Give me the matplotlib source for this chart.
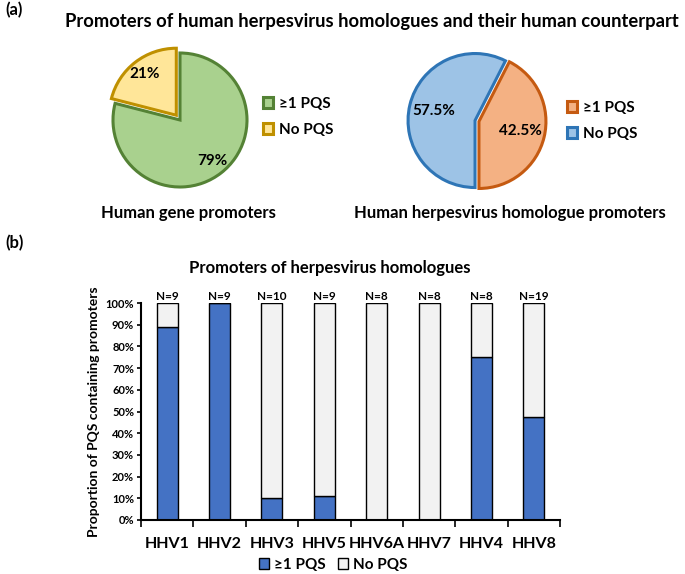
import matplotlib
matplotlib.use("Agg")
import matplotlib.pyplot as plt
from matplotlib.patches import Patch

plt.rcParams['font.family'] = ['Lato', 'DejaVu Sans']
plt.rcParams['font.weight'] = 'bold'

# panel (a) data
pie_labels = ['\u22651 PQS', 'No PQS']
human_gene = [79, 21]
herpes_homologue = [42.5, 57.5]

# panel (b) data
viruses = ['HHV1', 'HHV2', 'HHV3', 'HHV5', 'HHV6A', 'HHV7', 'HHV4', 'HHV8']
n_promoters = [9, 9, 10, 9, 8, 8, 8, 19]
with_pqs = [88.9, 100, 10.0, 11.1, 0, 0, 75.0, 47.4]
no_pqs = [100 - v for v in with_pqs]

W, H = 685, 574
fig = plt.figure(figsize=(W / 100, H / 100), dpi=100)


def px(x, y):
    return x / W, 1 - y / H


def pie_axes(cx, cy, r, half=1.4):
    s = r * half
    ax = fig.add_axes([(cx - s) / W, 1 - (cy + s) / H, 2 * s / W, 2 * s / H])
    ax.axis('off')
    return ax


# left pie
ax1 = pie_axes(180, 120, 67)
w1, _, t1 = ax1.pie(human_gene, explode=[0, 0.09], startangle=90, counterclock=False,
                    colors=['#A9D18E', '#FFE699'], autopct='%d%%', pctdistance=0.78,
                    wedgeprops=dict(linewidth=2.2), textprops=dict(fontsize=11, fontweight='bold'))
w1[0].set_edgecolor('#548235')
w1[1].set_edgecolor('#BF9000')
ax1.set_xlim(-1.4, 1.4); ax1.set_ylim(-1.4, 1.4)

# right pie
ax2 = pie_axes(477, 121, 67)
w2, _, t2 = ax2.pie(herpes_homologue, explode=[0.03, 0.03], startangle=63, counterclock=False,
                    colors=['#F4B183', '#9DC3E6'], autopct='%.1f%%', pctdistance=0.63,
                    wedgeprops=dict(linewidth=2.2), textprops=dict(fontsize=11, fontweight='bold'))
w2[0].set_edgecolor('#C55A11')
w2[1].set_edgecolor('#2E75B6')
ax2.set_xlim(-1.4, 1.4); ax2.set_ylim(-1.4, 1.4)

for wedges, pos in [(w1, (255, 117)), (w2, (559, 121))]:
    fig.legend(wedges, pie_labels, loc='center left', bbox_to_anchor=px(*pos),
               frameon=False, fontsize=11, handlelength=0.7, handleheight=0.7,
               handletextpad=0.4, labelspacing=0.8, borderpad=0)

fig.text(*px(5, 10), '(a)', fontsize=12, fontweight='bold', va='center')
fig.text(*px(372, 22), 'Promoters of human herpesvirus homologues and their human counterpart',
         fontsize=13.2, fontweight='bold', ha='center', va='center')
fig.text(*px(188, 213), 'Human gene promoters', fontsize=12, fontweight='bold', ha='center', va='center')
fig.text(*px(510, 213), 'Human herpesvirus homologue promoters', fontsize=12, fontweight='bold',
         ha='center', va='center')

# panel (b)
fig.text(*px(5, 243), '(b)', fontsize=12, fontweight='bold', va='center')
ax3 = fig.add_axes([141 / W, 1 - 520 / H, (560 - 141) / W, (520 - 303) / H])
x = list(range(len(viruses)))
ax3.bar(x, with_pqs, width=0.4, color='#4472C4', edgecolor='black', linewidth=1, label=pie_labels[0])
ax3.bar(x, no_pqs, bottom=with_pqs, width=0.4, color='#F2F2F2', edgecolor='black', linewidth=1,
        label=pie_labels[1])
for i, n in enumerate(n_promoters):
    ax3.annotate(f'N={n}', (i, 100), xytext=(0, 1), textcoords='offset points',
                 ha='center', va='bottom', fontsize=8.5, fontweight='bold')

ax3.set_xlim(-0.5, len(viruses) - 0.5)
ax3.set_ylim(0, 100)
ax3.set_yticks(range(0, 101, 10))
ax3.set_yticklabels([f'{v}%' for v in range(0, 101, 10)], fontsize=8, fontweight='bold')
ax3.set_xticks(x)
ax3.set_xticklabels(viruses, fontsize=11.5, fontweight='bold')
ax3.set_xticks([i - 0.5 for i in range(len(viruses) + 1)], minor=True)
ax3.tick_params(axis='x', which='major', length=0, pad=12)
ax3.tick_params(axis='x', which='minor', length=5, width=1.2, direction='out')
ax3.tick_params(axis='y', length=3, width=1.2, pad=2)
for s in ['top', 'right']:
    ax3.spines[s].set_visible(False)
for s in ['left', 'bottom']:
    ax3.spines[s].set_linewidth(1.5)
ax3.set_ylabel('Proportion of PQS containing promoters', fontsize=10, fontweight='bold', labelpad=4)
fig.text(*px(330, 268), 'Promoters of herpesvirus homologues', fontsize=12, fontweight='bold',
         ha='center', va='center')
fig.legend(handles=[Patch(facecolor='#4472C4', edgecolor='black'),
                    Patch(facecolor='#F2F2F2', edgecolor='black')],
           labels=pie_labels, loc='center', bbox_to_anchor=px(333, 565), ncol=2, frameon=False,
           fontsize=11, handlelength=0.7, handleheight=0.7, handletextpad=0.3, columnspacing=0.8,
           borderpad=0)

fig.savefig('out.png', dpi=100)
